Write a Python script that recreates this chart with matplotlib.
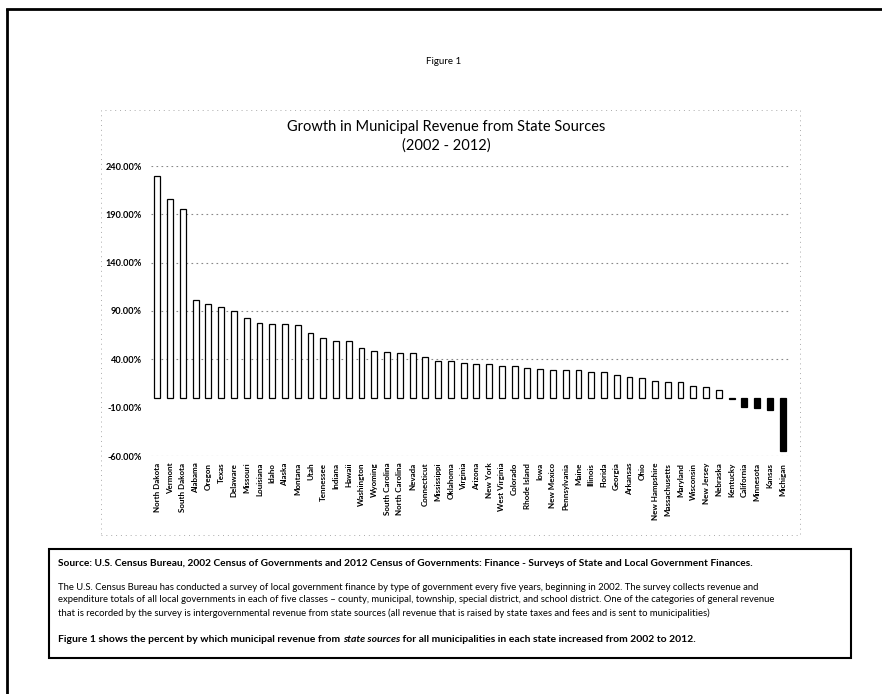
import matplotlib
matplotlib.use("Agg")
import matplotlib.pyplot as plt
from matplotlib.patches import Rectangle
from matplotlib.lines import Line2D

plt.rcParams['font.family'] = ['Lato', 'DejaVu Sans']

# Percent change in municipal revenue from state sources, 2002-2012
states = [
    "North Dakota", "Vermont", "South Dakota", "Alabama", "Oregon", "Texas",
    "Delaware", "Missouri", "Louisiana", "Idaho", "Alaska", "Montana", "Utah",
    "Tennessee", "Indiana", "Hawaii", "Washington", "Wyoming", "South Carolina",
    "North Carolina", "Nevada", "Connecticut", "Mississippi", "Oklahoma",
    "Virginia", "Arizona", "New York", "West Virginia", "Colorado",
    "Rhode Island", "Iowa", "New Mexico", "Pennsylvania", "Maine", "Illinois",
    "Florida", "Georgia", "Arkansas", "Ohio", "New Hampshire", "Massachusetts",
    "Maryland", "Wisconsin", "New Jersey", "Nebraska", "Kentucky", "California",
    "Minnesota", "Kansas", "Michigan",
]
growth = [
    229.6, 205.8, 195.1, 101.6, 96.8, 94.0,
    90.2, 82.6, 77.5, 76.8, 76.4, 75.1, 66.8,
    61.6, 59.2, 58.5, 51.6, 48.5, 47.1,
    46.1, 46.1, 41.9, 37.8, 37.8,
    36.7, 35.4, 35.0, 33.6, 32.6,
    31.2, 30.2, 29.2, 28.8, 28.5, 27.4,
    26.4, 24.0, 21.6, 20.9, 17.1, 16.8,
    16.4, 12.2, 11.2, 7.8, -1.0, -8.8,
    -10.1, -12.9, -55.1,
]
yticks = [-60, -10, 40, 90, 140, 190, 240]
grid_levels = [-60, 40, 90, 140, 190, 240]

fig_title = "Figure 1"
chart_title = "Growth in Municipal Revenue from State Sources"
chart_subtitle = "(2002 - 2012)"
source_line = ("Source: U.S. Census Bureau, 2002 Census of Governments and 2012 Census of "
               "Governments: Finance - Surveys of State and Local Government Finances.")
para_lines = [
    "The U.S. Census Bureau has conducted a survey of local government finance by type of "
    "government every five years, beginning in 2002. The survey collects revenue and",
    "expenditure totals of all local governments in each of five classes \u2013 county, municipal, "
    "township, special district, and school district. One of the categories of general revenue",
    "that is recorded by the survey is intergovernmental revenue from state sources (all revenue "
    "that is raised by state taxes and fees and is sent to municipalities)",
]
last_parts = [
    ("Figure 1 shows the percent by which municipal revenue from ", "normal"),
    ("state sources", "italic"),
    (" for all municipalities in each state increased from 2002 to 2012.", "normal"),
]

W, H = 882, 694
fig = plt.figure(figsize=(W / 100, H / 100), dpi=100)


def fx(px):
    return px / W


def fy(py):
    return 1 - py / H


# page frame (left and top edges)
fig.add_artist(Line2D([fx(7), fx(7)], [fy(10), fy(694)], color='black', lw=2.0))
fig.add_artist(Line2D([fx(7), fx(882)], [fy(9), fy(9)], color='black', lw=2.0))

# faint dotted chart-area outline
fig.add_artist(Rectangle((fx(101), fy(535)), fx(800) - fx(101), fy(110) - fy(535),
                         fill=False, edgecolor='#aaaaaa', lw=0.7, ls=(0, (1, 4))))

fig.text(fx(444), fy(61), fig_title, ha='center', va='center', fontsize=7)
fig.text(fx(446), fy(127), chart_title, ha='center', va='center', fontsize=10.5)
fig.text(fx(446), fy(146), chart_subtitle, ha='center', va='center', fontsize=10.5)

ax = fig.add_axes([fx(151), fy(456), (789 - 151) / W, (456 - 166) / H])
pos = list(range(len(states)))
fills = ['white' if v >= 0 else 'black' for v in growth]
ax.bar(pos, growth, width=0.46, color=fills, edgecolor='black', linewidth=0.9, zorder=3)
ax.set_xlim(-0.5, len(states) - 0.5)
ax.set_ylim(-60, 240)
for lvl in grid_levels:
    ax.axhline(lvl, color='#888888', lw=0.8, ls=(0, (1.5, 3)), zorder=1)
ax.set_yticks(yticks)
ax.set_yticklabels([f"{t:.2f}%" for t in yticks], fontsize=6.6, fontweight='bold')
ax.set_xticks(pos)
ax.set_xticklabels(states, rotation=90, fontsize=5.8, fontweight='bold', ha='center', va='top')
ax.tick_params(axis='y', length=0, pad=6.5)
ax.tick_params(axis='x', length=0, pad=4.8)
ax.set_facecolor('none')
for s in ax.spines.values():
    s.set_visible(False)

# note box below the chart
fig.add_artist(Rectangle((fx(49), fy(658)), fx(851) - fx(49), fy(549) - fy(658),
                         fill=False, edgecolor='black', lw=1.5))
fig.text(fx(58), fy(563), source_line, ha='left', va='center', fontsize=7.3, fontweight='bold')
for i, line in enumerate(para_lines):
    fig.text(fx(58), fy(587 + 13 * i), line, ha='left', va='center', fontsize=6.85)

renderer = fig.canvas.get_renderer()
xcur = 58
for txt, style in last_parts:
    t = fig.text(fx(xcur), fy(640), txt, ha='left', va='center', fontsize=7.45,
                 fontweight='bold', fontstyle=style)
    bb = t.get_window_extent(renderer=renderer)
    xcur += bb.width

fig.savefig("out.png", dpi=100, facecolor='white')
